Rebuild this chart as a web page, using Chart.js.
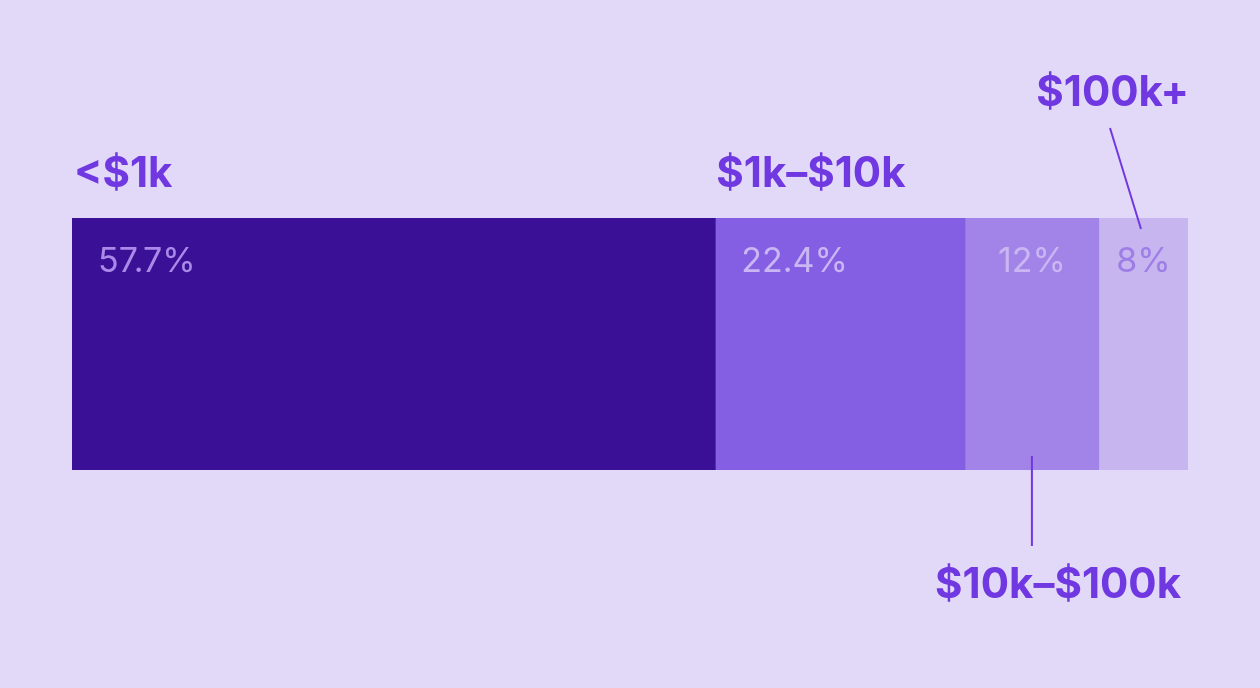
<!DOCTYPE html>
<html><head><meta charset="utf-8">
<script src="https://cdn.jsdelivr.net/npm/chart.js@4/dist/chart.umd.min.js"></script>
<style>html,body{margin:0;padding:0;background:#e2d8f8;}canvas{display:block}</style>
</head><body>
<canvas id="c" width="1260" height="688"></canvas>
<script>
const categories = ["<$1k", "$1k–$10k", "$10k–$100k", "$100k+"];
const values = [57.7, 22.4, 12, 8];
const valueLabels = ["57.7%", "22.4%", "12%", "8%"];
const colors = ["#3a1096", "#845ee3", "#a283e8", "#c7b5f0"];
const pctColors = ["#a98ae8", "#c9b6f3", "#c9b6f3", "#9e7ee6"];
const total = values.reduce((a,b)=>a+b,0);

const labelPlugin = {
  id: 'labels',
  afterDatasetsDraw(chart) {
    const ctx = chart.ctx;
    const xs = chart.scales.x;
    let cum = 0;
    const bounds = values.map(v => { const s = xs.getPixelForValue(cum); cum += v; return [s, xs.getPixelForValue(cum)]; });
    ctx.save();
    ctx.textBaseline = 'middle';
    ctx.font = '34px Inter';
    bounds.forEach(([s,e], i) => {
      ctx.fillStyle = pctColors[i];
      if (e - s > 200) { ctx.textAlign = 'left'; ctx.fillText(valueLabels[i], s + 26, 262); }
      else { ctx.textAlign = 'center'; ctx.fillText(valueLabels[i], (s+e)/2, 262); }
    });
    ctx.fillStyle = '#7038e0';
    ctx.strokeStyle = '#7038e0';
    ctx.lineWidth = 2;
    ctx.font = 'bold 42px Inter';
    ctx.textAlign = 'left';
    ctx.fillText(categories[0], bounds[0][0] + 2, 174);
    ctx.fillText(categories[1], bounds[1][0] + 1, 174);
    ctx.textAlign = 'right';
    ctx.fillText(categories[3], bounds[3][1] + 1, 93);
    ctx.fillText(categories[2], bounds[3][1] - 7, 585);
    ctx.beginPath();
    ctx.moveTo(1110, 128); ctx.lineTo(1141, 229);
    const mid = (bounds[2][0] + bounds[2][1]) / 2;
    ctx.moveTo(mid, 456); ctx.lineTo(mid, 546);
    ctx.stroke();
    ctx.restore();
  }
};

new Chart(document.getElementById('c'), {
  type: 'bar',
  data: {
    labels: [''],
    datasets: values.map((v, i) => ({ label: categories[i], data: [v], backgroundColor: colors[i], borderWidth: 0, barPercentage: 1, categoryPercentage: 1 }))
  },
  options: {
    indexAxis: 'y', responsive: false, animation: false,
    layout: { padding: { left: 72, right: 72, top: 218, bottom: 218 } },
    scales: { x: { stacked: true, display: false, min: 0, max: total }, y: { stacked: true, display: false } },
    plugins: { legend: { display: false }, tooltip: { enabled: false } }
  },
  plugins: [labelPlugin]
});
</script>
</body></html>
